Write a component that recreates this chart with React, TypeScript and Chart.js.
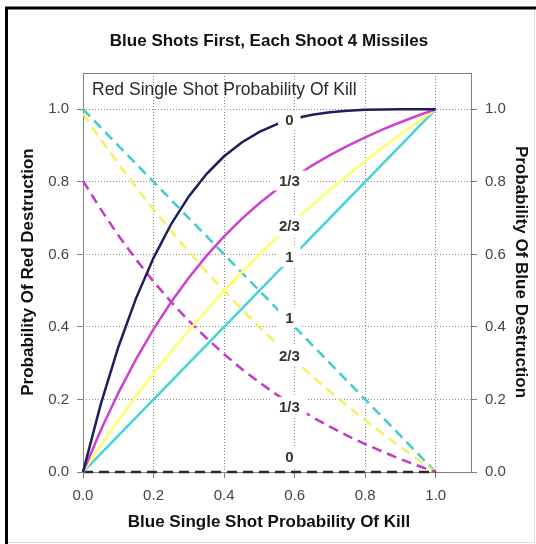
import React, { useEffect, useRef } from "react";
import { Chart, registerables } from "chart.js";

Chart.register(...registerables);

// Blue single shot probability of kill (x axis)
const blueKill = [0, 0.05, 0.1, 0.15, 0.2, 0.25, 0.3, 0.35, 0.4, 0.45, 0.5, 0.55, 0.6, 0.65, 0.7, 0.75, 0.8, 0.85, 0.9, 0.95, 1.0];

// Probability of Red destruction (solid lines), by Red single shot Pk
const redDestr0 = [0, 0.1855, 0.3439, 0.478, 0.5904, 0.6836, 0.7599, 0.8215, 0.8704, 0.9085, 0.9375, 0.959, 0.9744, 0.985, 0.9919, 0.9961, 0.9984, 0.9995, 0.9999, 1.0, 1.0];
const redDestr13 = [0, 0.1144, 0.2176, 0.3105, 0.3939, 0.4688, 0.5358, 0.5959, 0.6496, 0.6977, 0.7407, 0.7794, 0.8141, 0.8453, 0.8736, 0.8993, 0.9228, 0.9444, 0.9643, 0.9828, 1.0];
const redDestr23 = [0, 0.0724, 0.1417, 0.2079, 0.2714, 0.332, 0.3901, 0.4458, 0.4992, 0.5504, 0.5995, 0.6467, 0.6921, 0.7357, 0.7777, 0.8181, 0.8571, 0.8947, 0.931, 0.9661, 1.0];
const redDestr1 = [0, 0.05, 0.1, 0.15, 0.2, 0.25, 0.3, 0.35, 0.4, 0.45, 0.5, 0.55, 0.6, 0.65, 0.7, 0.75, 0.8, 0.85, 0.9, 0.95, 1.0];

// Probability of Blue destruction (dashed lines), by Red single shot Pk
const blueDestr0 = [0, 0, 0, 0, 0, 0, 0, 0, 0, 0, 0, 0, 0, 0, 0, 0, 0, 0, 0, 0, 0];
const blueDestr13 = [0.8025, 0.7247, 0.6528, 0.5864, 0.5252, 0.4688, 0.4168, 0.3689, 0.3248, 0.2842, 0.2469, 0.2126, 0.1809, 0.1517, 0.1248, 0.0999, 0.0769, 0.0556, 0.0357, 0.0172, 0];
const blueDestr23 = [0.9877, 0.9176, 0.8502, 0.7856, 0.7236, 0.6641, 0.6069, 0.552, 0.4992, 0.4485, 0.3997, 0.3528, 0.3076, 0.2641, 0.2222, 0.1818, 0.1429, 0.1053, 0.069, 0.0339, 0];
const blueDestr1 = [1.0, 0.95, 0.9, 0.85, 0.8, 0.75, 0.7, 0.65, 0.6, 0.55, 0.5, 0.45, 0.4, 0.35, 0.3, 0.25, 0.2, 0.15, 0.1, 0.05, 0];

const seriesLabels = ["0", "1/3", "2/3", "1"];
const tickValues = [0, 0.2, 0.4, 0.6, 0.8, 1.0];

const TITLE = "Blue Shots First, Each Shoot 4 Missiles";
const X_TITLE = "Blue Single Shot Probability Of Kill";
const Y_TITLE = "Probability Of Red Destruction";
const Y2_TITLE = "Probability Of Blue Destruction";
const INNER_TITLE = "Red Single Shot Probability Of Kill";

const COLORS = ["#1e1e5e", "#d040d0", "#ffff66", "#44d4d4"];
const DASH_COLORS = ["#2a2a2a", "#c438c4", "#f4f060", "#40cccc"];
const LABEL_X = 0.585;
const FONT = "'Liberation Sans', Arial, sans-serif";

function toPts(ys: number[]) {
  return blueKill.map((x, i) => ({ x, y: ys[i] }));
}

function interp(ys: number[], x: number) {
  for (let i = 0; i < blueKill.length - 1; i++) {
    const a = blueKill[i], b = blueKill[i + 1];
    if (x >= a && x <= b) {
      const t = (x - a) / (b - a);
      return ys[i] + t * (ys[i + 1] - ys[i]);
    }
  }
  return ys[ys.length - 1];
}

export default function App() {
  const ref = useRef<HTMLCanvasElement | null>(null);

  useEffect(() => {
    if (!ref.current) return;
    const solid = [redDestr0, redDestr13, redDestr23, redDestr1];
    const dashed = [blueDestr0, blueDestr13, blueDestr23, blueDestr1];

    const datasets: any[] = [];
    solid.forEach((ys, i) =>
      datasets.push({
        label: "red" + seriesLabels[i],
        data: toPts(ys),
        borderColor: COLORS[i],
        borderWidth: 2.5,
        pointRadius: 0,
        fill: false,
        tension: 0,
        clip: false,
        yAxisID: "y",
      })
    );
    dashed.forEach((ys, i) =>
      datasets.push({
        label: "blue" + seriesLabels[i],
        data: toPts(ys),
        borderColor: DASH_COLORS[i],
        borderWidth: 2.5,
        borderDash: [10, 6],
        pointRadius: 0,
        fill: false,
        tension: 0,
        clip: false,
        yAxisID: "y2",
      })
    );

    const decor = {
      id: "decor",
      beforeDraw(chart: any) {
        const c = chart.ctx;
        c.save();
        c.fillStyle = "#ffffff";
        c.fillRect(0, 0, chart.width, chart.height);
        c.restore();
      },
      beforeDatasetsDraw(chart: any) {
        const c = chart.ctx;
        const a = chart.chartArea;
        c.save();
        c.strokeStyle = "#808080";
        c.lineWidth = 1;
        c.strokeRect(Math.round(a.left) + 0.5, Math.round(a.top) + 0.5, Math.round(a.right - a.left), Math.round(a.bottom - a.top));
        c.restore();
      },
      afterDatasetsDraw(chart: any) {
        const c = chart.ctx;
        const xs = chart.scales.x;
        const ys = chart.scales.y;
        c.save();
        c.font = "bold 15px " + FONT;
        c.textAlign = "center";
        c.textBaseline = "middle";
        const drawLabel = (txt: string, px: number, py: number) => {
          const w = c.measureText(txt).width + 14;
          const h = 20;
          c.fillStyle = "#ffffff";
          c.fillRect(px - w / 2, py - h / 2, w, h);
          c.fillStyle = "#333333";
          c.fillText(txt, px, py + 1);
        };
        const px = xs.getPixelForValue(LABEL_X);
        solid.forEach((arr, i) => {
          let py = ys.getPixelForValue(interp(arr, LABEL_X));
          if (i === 3) py -= 3;
          drawLabel(seriesLabels[i], px, py);
        });
        dashed.forEach((arr, i) => {
          let py = ys.getPixelForValue(interp(arr, LABEL_X));
          if (i === 0) py -= 15;
          else if (i === 1) py += 4;
          else if (i === 3) py -= 4;
          drawLabel(seriesLabels[i], px, py);
        });
        c.restore();
      },
      afterDraw(chart: any) {
        const c = chart.ctx;
        const W = chart.width, H = chart.height;
        c.save();
        // outer frame
        c.strokeStyle = "#dddddd";
        c.lineWidth = 1;
        c.beginPath();
        c.moveTo(W - 1.5, 8);
        c.lineTo(W - 1.5, H - 1.5);
        c.lineTo(6, H - 1.5);
        c.stroke();
        c.strokeStyle = "#000000";
        c.lineWidth = 3;
        c.beginPath();
        c.moveTo(6.5, H);
        c.lineTo(6.5, 8);
        c.lineTo(W, 8);
        c.stroke();

        c.fillStyle = "#111111";
        c.textAlign = "center";
        c.textBaseline = "middle";
        c.font = "bold 17px " + FONT;
        c.fillText(TITLE, 269, 41);
        c.fillText(X_TITLE, 269, 522);

        c.save();
        c.translate(28, 272);
        c.rotate(-Math.PI / 2);
        c.fillText(Y_TITLE, 0, 0);
        c.restore();

        c.save();
        c.translate(521, 272);
        c.rotate(Math.PI / 2);
        c.fillText(Y2_TITLE, 0, 0);
        c.restore();

        c.fillStyle = "#2a2a2a";
        c.font = "17.5px " + FONT;
        c.textAlign = "left";
        c.fillText(INNER_TITLE, 92, 90);
        c.restore();
      },
    };

    const tickFmt = (v: any) => Number(v).toFixed(1);
    const gridCommon = {
      color: "#8a8a8a",
      lineWidth: 1,
      tickLength: 6,
      tickColor: "#808080",
      tickBorderDash: [],
    };
    const borderCommon = { display: false, dash: [1, 2] };

    const chart = new Chart(ref.current, {
      type: "line",
      data: { datasets },
      plugins: [decor],
      options: {
        animation: false,
        responsive: false,
        maintainAspectRatio: false,
        layout: { padding: { top: 73, left: 0, right: 0, bottom: 0 } },
        plugins: { legend: { display: false }, title: { display: false }, tooltip: { enabled: false } },
        scales: {
          x: {
            type: "linear",
            min: 0,
            max: 1.1,
            border: borderCommon,
            grid: gridCommon,
            afterBuildTicks: (s: any) => {
              s.ticks = tickValues.map((v) => ({ value: v }));
            },
            afterFit: (s: any) => {
              s.height = 72;
            },
            ticks: {
              stepSize: 0.2,
              includeBounds: false,
              padding: 9,
              color: "#444444",
              font: { family: FONT, size: 15 },
              callback: tickFmt,
              maxRotation: 0,
            },
          },
          y: {
            type: "linear",
            position: "left",
            min: 0,
            max: 1.1,
            border: borderCommon,
            grid: gridCommon,
            afterBuildTicks: (s: any) => {
              s.ticks = tickValues.map((v) => ({ value: v }));
            },
            afterFit: (s: any) => {
              s.width = 83;
            },
            ticks: {
              stepSize: 0.2,
              includeBounds: false,
              padding: 8,
              color: "#444444",
              font: { family: FONT, size: 15 },
              callback: tickFmt,
            },
          },
          y2: {
            type: "linear",
            position: "right",
            min: 0,
            max: 1.1,
            border: borderCommon,
            grid: { ...gridCommon, drawOnChartArea: false },
            afterBuildTicks: (s: any) => {
              s.ticks = tickValues.map((v) => ({ value: v }));
            },
            afterFit: (s: any) => {
              s.width = 65;
            },
            ticks: {
              stepSize: 0.2,
              includeBounds: false,
              padding: 8,
              color: "#444444",
              font: { family: FONT, size: 15 },
              callback: tickFmt,
            },
          },
        },
      } as any,
    });
    return () => chart.destroy();
  }, []);

  return (
    <div style={{ position: "absolute", left: 0, top: 0, width: 536, height: 544 }}>
      <canvas ref={ref} width={536} height={544} style={{ width: 536, height: 544, display: "block" }} />
    </div>
  );
}
